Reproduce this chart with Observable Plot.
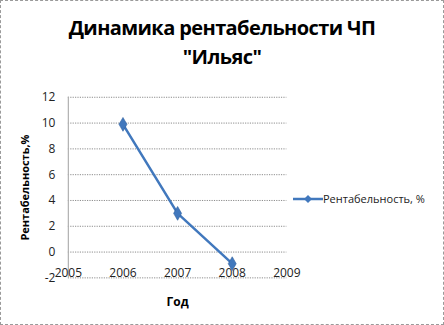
<!DOCTYPE html>
<html>
<head>
<meta charset="utf-8">
<script src="https://cdn.jsdelivr.net/npm/d3@7"></script>
<script src="https://cdn.jsdelivr.net/npm/@observablehq/plot@0.6"></script>
<style>
  html, body { margin: 0; padding: 0; background: #fff; }
  #frame {
    position: relative; width: 442px; height: 323px;
    border: 1px dashed #9a9a9a; background: #fff; overflow: hidden;
    font-family: "Open Sans", "DejaVu Sans", sans-serif;
  }
  #title {
    position: absolute; left: 0; top: 12px; width: 442px; text-align: center;
    font-weight: bold; font-size: 20px; line-height: 29px; color: #000;
    letter-spacing: -0.6px;
  }
  #chart { position: absolute; left: -1px; top: -1px; }
  #legend {
    position: absolute; left: 292px; top: 190px; display: flex; align-items: center;
    font-size: 11px; color: #222; white-space: nowrap;
  }
</style>
</head>
<body>
<div id="frame">
  <div id="chart"></div>
  <div id="title">Динамика рентабельности ЧП<br>"Ильяс"</div>
  <div id="legend"></div>
</div>
<script>
// Profitability of the private enterprise by year
const years = [2006, 2007, 2008];
const profitability = [9.9, 3.0, -0.9];
const seriesName = "Рентабельность, %";
const xTicks = [2005, 2006, 2007, 2008, 2009];
const yTicks = [-2, 0, 2, 4, 6, 8, 10, 12];

const rows = years.map((year, i) => ({year, value: profitability[i]}));
const lineColor = "#4178bd";
const font = '"Open Sans", "DejaVu Sans", sans-serif';

const plot = Plot.plot({
  width: 444,
  height: 325,
  marginLeft: 68,
  marginRight: 157,
  marginTop: 97,
  marginBottom: 47,
  style: {fontFamily: font, fontSize: "11px", color: "#222", background: "transparent"},
  x: {domain: [2005, 2009], ticks: xTicks, axis: null},
  y: {domain: [-2, 12], ticks: yTicks, axis: null},
  marks: [
    // dotted horizontal gridlines
    Plot.ruleY(yTicks, {stroke: "#8c8c8c", strokeDasharray: "1.2,1.2", strokeWidth: 1}),
    // vertical value axis line
    Plot.ruleX([2005], {stroke: "#b0b0b0", strokeWidth: 1.2}),
    // y tick labels
    Plot.text(yTicks, {x: 2005, y: d => d, text: d => String(d), textAnchor: "end", dx: -13, fontSize: 12, fill: "#222"}),
    // x tick labels, hung below the zero line where the category axis crosses
    Plot.text(xTicks, {x: d => d, y: 0, text: d => String(d), dy: 21, fontSize: 12, fill: "#222"}),
    // axis titles
    Plot.text(["Рентабельность,%"], {frameAnchor: "left", textAnchor: "middle", dx: -43, text: d => d, rotate: -90, fontWeight: "bold", fontSize: 11, fill: "#000"}),
    Plot.text(["Год"], {frameAnchor: "bottom", textAnchor: "middle", lineAnchor: "middle", dy: 24, text: d => d, fontWeight: "bold", fontSize: 12, fill: "#000"}),
    // the series
    Plot.line(rows, {x: "year", y: "value", stroke: lineColor, strokeWidth: 2.5}),
    Plot.dot(rows, {x: "year", y: "value", symbol: "diamond", r: 4.2, fill: lineColor, stroke: "#2f5f9e", strokeWidth: 0.6})
  ]
});
document.getElementById("chart").appendChild(plot);

// legend entry: line with diamond marker + series name
const legend = document.getElementById("legend");
const sw = d3.create("svg").attr("width", 30).attr("height", 12);
sw.append("line").attr("x1", 0).attr("x2", 30).attr("y1", 6).attr("y2", 6)
  .attr("stroke", lineColor).attr("stroke-width", 2.5);
sw.append("path").attr("d", d3.symbol(d3.symbolDiamond2, 40)()).attr("transform", "translate(15,6)")
  .attr("fill", lineColor);
legend.appendChild(sw.node());
const lab = document.createElement("span");
lab.textContent = seriesName;
legend.appendChild(lab);
</script>
</body>
</html>
